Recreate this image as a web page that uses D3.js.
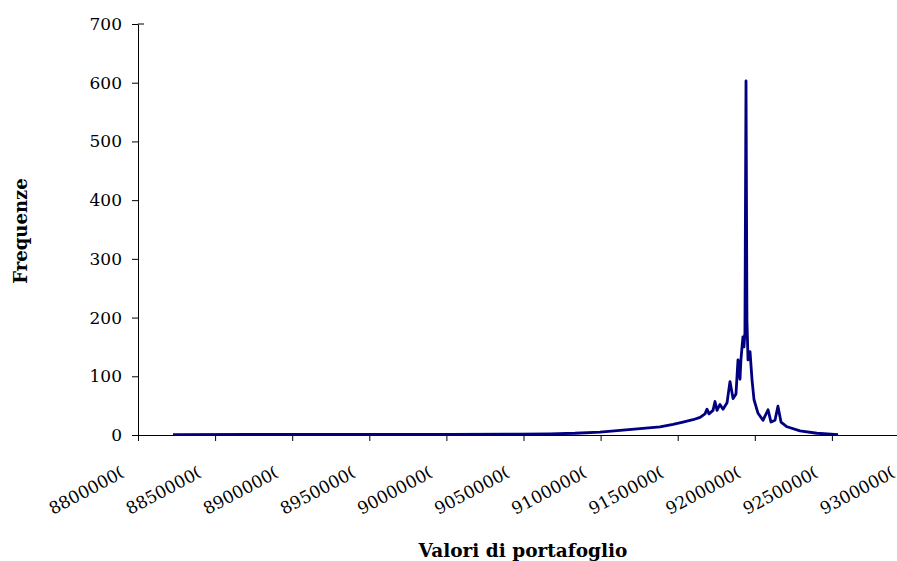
<!DOCTYPE html>
<html>
<head>
<meta charset="utf-8">
<script src="https://cdn.jsdelivr.net/npm/d3@7"></script>
<style>
  body { margin: 0; background: #fff; }
  text { font-family: "DejaVu Serif", serif; fill: #000; }
</style>
</head>
<body>
<div id="chart"></div>
<script>
// portfolio values (x) and how often each one came out (y)
const portfolioValues = [
  88227000, 88726000, 89375000, 90023000, 90477000, 90672000, 90834000, 90996000,
  91126000, 91256000, 91385000, 91470000, 91534000, 91599000, 91645000, 91677000,
  91690000, 91703000, 91729000, 91742000, 91755000, 91774000, 91794000, 91820000,
  91839000, 91859000, 91878000, 91891000, 91904000, 91910000, 91923000, 91930000,
  91936000, 91943000, 91949000, 91956000, 91969000, 91982000, 91995000, 92021000,
  92053000, 92086000, 92105000, 92131000, 92150000, 92170000, 92209000, 92293000,
  92403000, 92540000
];
const frequencies = [
  0.5, 1, 1, 1, 1.5, 2, 3, 5,
  8, 11, 14, 18, 22, 26, 30, 36,
  44, 36, 42, 57, 42, 52, 44, 55,
  91, 62, 70, 128, 95, 128, 167, 150,
  175, 603, 196, 128, 142, 94, 60, 37,
  25, 43, 22, 25, 49, 22, 14, 7,
  3, 0.5
];
const xTickValues = d3.range(88000000, 93000001, 500000);
const yTickValues = [0, 100, 200, 300, 400, 500, 600, 700];

const svgWidth = 897;
const svgHeight = 561;

const svg = d3.select("#chart")
  .append("svg")
  .attr("width", svgWidth)
  .attr("height", svgHeight);

// plot area runs past the right edge of the picture, like the original
const x = d3.scaleLinear()
  .domain([88000000, 93000000])
  .range([138, 909]);

const y = d3.scaleLinear()
  .domain([0, 700])
  .range([435, 24]);

// y axis
const yAxis = svg.append("g")
  .attr("transform", "translate(138,0)")
  .call(d3.axisLeft(y).tickValues(yTickValues).tickSize(6).tickSizeOuter(0).tickPadding(10));
yAxis.selectAll("text").style("font-size", "17px").style("font-family", "DejaVu Serif");
yAxis.selectAll("line, path").attr("stroke", "#000");

svg.append("line")
  .attr("x1", 138).attr("x2", 144)
  .attr("y1", y(700)).attr("y2", y(700))
  .attr("stroke", "#000");

// x axis, labels drawn by hand below
const xAxis = svg.append("g")
  .attr("transform", "translate(0,435)")
  .call(d3.axisBottom(x).tickValues(xTickValues).tickSize(6).tickSizeOuter(0).tickFormat(""));
xAxis.selectAll("line, path").attr("stroke", "#000");

// last digit of each label is half cut, as in the source picture
svg.append("defs").append("clipPath")
  .attr("id", "labelClip")
  .append("rect")
  .attr("x", -5).attr("y", -20)
  .attr("width", 86).attr("height", 30);

svg.append("g").selectAll("g")
  .data(xTickValues)
  .enter()
  .append("g")
  .attr("transform", d => `translate(${x(d) - 85},515) rotate(-28)`)
  .append("text")
  .attr("clip-path", "url(#labelClip)")
  .style("font-size", "17px")
  .text(d => d3.format("d")(d));

// the frequency line
const line = d3.line()
  .x((d, i) => x(portfolioValues[i]))
  .y(d => y(d));

svg.append("path")
  .datum(frequencies)
  .attr("fill", "none")
  .attr("stroke", "#000080")
  .attr("stroke-width", 2.8)
  .attr("stroke-linejoin", "round")
  .attr("d", line);

// axis titles
svg.append("text")
  .attr("transform", "translate(27,231) rotate(-90)")
  .attr("text-anchor", "middle")
  .style("font-size", "18px")
  .style("font-weight", "bold")
  .text("Frequenze");

svg.append("text")
  .attr("x", 523)
  .attr("y", 557)
  .attr("text-anchor", "middle")
  .style("font-size", "18.5px")
  .style("font-weight", "bold")
  .text("Valori di portafoglio");
</script>
</body>
</html>
